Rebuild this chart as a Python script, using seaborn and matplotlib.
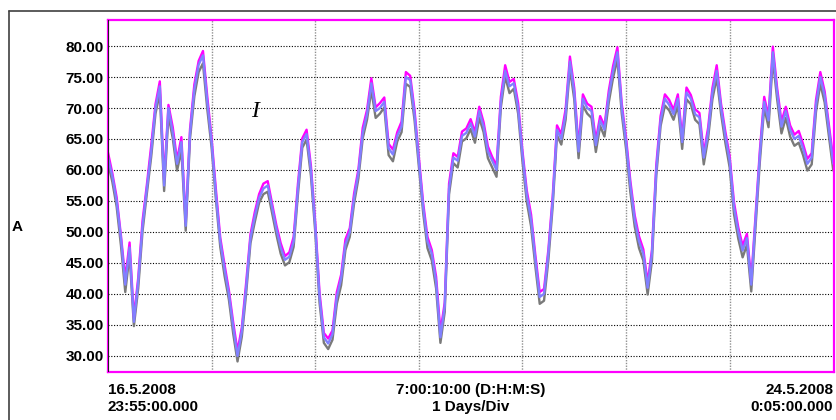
import numpy as np
import matplotlib
matplotlib.use("Agg")
import matplotlib.pyplot as plt
import seaborn as sns
from matplotlib.lines import Line2D

# hourly current readings (A), three phases, starting 16.5.2008 23:55
phase_blue = [62, 59, 55, 49, 41.5, 47.5, 35.5, 42, 51, 57, 63, 70, 73.5, 57.5, 70, 66, 61, 64.5, 51, 66, 73, 77, 78.5, 71, 64.5, 56, 48.5, 44, 40,
              34.7, 30, 34, 41, 49, 52.5, 55.5, 57, 57.5, 54, 50.5, 47.5, 45.5, 46, 48.5, 57, 64.5, 65.8, 60, 51, 39.5, 33, 32, 33.5, 39.5, 42.5, 48, 50,
              55.5, 59.5, 66, 69, 74, 69.5, 70, 71, 63.5, 62.5, 65.5, 67, 75, 74.5, 69, 61.5, 54, 48.5, 46.5, 42, 33, 38, 57, 62, 61.5, 65.5, 66, 67.5,
              65.4, 69.5, 67, 63, 61.5, 60, 71, 76, 73.5, 74, 70, 62.5, 56, 52, 45.5, 39.5, 40, 46.5, 55, 66.5, 65, 69, 77.5, 72.5, 63, 71.5, 70,
              69.5, 64, 68, 66.5, 72, 76, 79, 70, 64.5, 57.5, 52, 48.5, 46.5, 41, 46.5, 60, 68, 71.5, 70.5, 69, 71.5, 64.5, 72.5, 71.5, 69, 68.5, 62, 66,
              72.5, 76, 70, 65.5, 61.5, 54, 50, 47, 49, 41.5, 52, 62.5, 71, 68, 79, 72.5, 67, 69.5, 66.5, 65, 65.5, 63.5, 61, 62, 70.5, 75, 72, 66.5, 61]

phase_pink = [62.8, 59.5, 55.6, 49.4, 42.5, 48.3, 36.2, 42.6, 51.8, 57.6, 63.9, 70.6, 74.3, 58.4, 70.5, 66.9, 61.6, 65.3, 51.6, 66.6, 73.8, 77.6, 79.2, 71.8, 65.1, 56.8, 49.1, 44.7, 40.6,
              35.4, 30.8, 34.6, 41.8, 49.6, 53.2, 56.1, 57.8, 58.2, 54.6, 51.1, 48.2, 46.1, 46.7, 49.2, 57.8, 65.1, 66.5, 60.7, 51.6, 40.2, 33.7, 32.8, 34.1, 40.3, 43.1, 48.8, 50.6,
              56.2, 60.1, 66.8, 69.7, 74.8, 70.1, 70.8, 71.7, 64.2, 63.3, 66.1, 67.8, 75.8, 75.2, 69.7, 62.1, 54.7, 49.2, 47.1, 42.8, 33.9, 38.6, 57.8, 62.7, 62.1, 66.2, 66.7, 68.2,
              66.1, 70.2, 67.7, 63.8, 62.1, 60.7, 71.8, 76.9, 74.2, 74.7, 70.8, 63.1, 56.7, 52.8, 46.2, 40.3, 40.8, 47.1, 55.7, 67.2, 65.8, 69.8, 78.3, 73.2, 63.7, 72.2, 70.7,
              70.2, 64.8, 68.7, 67.1, 72.8, 76.8, 79.8, 70.7, 65.2, 58.2, 52.7, 49.3, 47.2, 41.8, 47.1, 60.8, 68.7, 72.2, 71.3, 69.7, 72.2, 65.2, 73.3, 72.1, 69.8, 69.2, 62.7, 66.8,
              73.2, 76.9, 70.7, 66.2, 62.2, 54.8, 50.7, 47.8, 49.7, 42.2, 52.8, 63.2, 71.8, 68.7, 79.9, 73.2, 67.8, 70.2, 67.2, 65.7, 66.3, 64.2, 61.8, 62.7, 71.3, 75.8, 72.7, 67.2, 61.7]

phase_gray = [61.2, 58.1, 54.1, 47.8, 40.3, 46.4, 34.8, 40.9, 50.1, 56.2, 62.1, 69.1, 72.4, 56.6, 68.8, 65.1, 59.9, 63.2, 50.2, 65.1, 71.9, 75.8, 77.2, 69.8, 63.6, 55.2, 47.6, 42.9, 39.1,
              33.6, 29.1, 33.1, 40.1, 48.2, 51.6, 54.7, 56.1, 56.5, 53.1, 49.6, 46.5, 44.6, 45.1, 47.6, 56.1, 63.6, 64.9, 59.1, 50.1, 38.6, 32.1, 31.1, 32.6, 38.4, 41.4, 47.1, 49.2,
              54.6, 58.6, 65.1, 68.1, 72.9, 68.4, 69.1, 70.1, 62.4, 61.4, 64.6, 66.1, 73.9, 73.4, 68.1, 60.6, 53.1, 47.4, 45.4, 40.9, 32.1, 37.1, 56.1, 61.1, 60.4, 64.6, 65.1, 66.6,
              64.4, 68.4, 66.1, 61.9, 60.4, 58.9, 70.1, 75.1, 72.4, 73.1, 69.1, 61.4, 54.9, 50.9, 44.4, 38.4, 38.9, 45.4, 54.1, 65.6, 64.1, 68.1, 76.4, 71.4, 61.9, 70.4, 69.1,
              68.4, 62.9, 67.1, 65.4, 70.9, 74.9, 77.9, 69.1, 63.4, 56.4, 50.9, 47.4, 45.4, 39.9, 45.4, 59.1, 67.1, 70.4, 69.6, 68.1, 70.4, 63.4, 71.4, 70.6, 68.1, 67.4, 60.9, 65.1,
              71.4, 74.9, 69.1, 64.4, 60.4, 52.9, 48.9, 45.9, 47.9, 40.4, 50.9, 61.4, 70.1, 66.9, 77.9, 71.4, 65.9, 68.4, 65.4, 63.9, 64.4, 62.4, 59.9, 60.9, 69.4, 73.9, 70.9, 65.4, 59.9]

y_ticks = [30, 35, 40, 45, 50, 55, 60, 65, 70, 75, 80]

sns.set_style("white")
plt.rcParams['font.family'] = ['Liberation Sans', 'DejaVu Sans']
plt.rcParams['text.color'] = 'black'
plt.rcParams['ytick.color'] = 'black'

W, H = 836, 420
fig = plt.figure(figsize=(W / 100, H / 100), dpi=100)
ax = fig.add_axes([108 / W, 1 - 372 / H, 726 / W, 352 / H])

# draw phases: gray underneath, blue on top
for vals, col in [(phase_gray, '#7a7a7a'), (phase_pink, '#ff00ff'), (phase_blue, '#8080ff')]:
    days = np.arange(len(vals)) / 24.0
    sns.lineplot(x=days, y=vals, color=col, linewidth=1.7, ax=ax, estimator=None)

ax.set_xlim(0, 7.007)
ax.set_ylim(27.4, 84.2)
ax.set_yticks(y_ticks)
ax.set_yticklabels([f"{v:.2f}" for v in y_ticks], fontsize=11, fontweight='bold', color='black')
ax.set_xticks(np.arange(1, 8))
ax.set_xticklabels([])
ax.tick_params(axis='both', length=0, pad=3)
ax.grid(False)
for v in y_ticks:
    ax.axhline(v, color='black', linewidth=0.8, linestyle=(0, (1, 1.5)), zorder=0)
for d in range(1, 7):
    ax.axvline(d, color='#909090', linewidth=1.0, linestyle=(0, (1, 1)), zorder=0)
ax.axvline(0.004, color='#202020', linewidth=1.5, zorder=5)
for s in ax.spines.values():
    s.set_color('#ff00ff')
    s.set_linewidth(1.6)
ax.set_xlabel('')
ax.set_ylabel('')

ax.text(0.2025, 0.741, 'I', transform=ax.transAxes, fontsize=17, style='italic',
        family=['Liberation Serif', 'DejaVu Serif'], ha='center', va='center', color='black')

# outer frame
fig.add_artist(Line2D([9 / W, 9 / W], [0, 1 - 11 / H], transform=fig.transFigure, color='#404040', linewidth=1.2))
fig.add_artist(Line2D([9 / W, 1], [1 - 11 / H, 1 - 11 / H], transform=fig.transFigure, color='#404040', linewidth=1.2))

fig.text(12 / W, 1 - 227 / H, 'A', fontsize=11, fontweight='bold', ha='left', va='center', color='black')

bold = dict(fontsize=11, fontweight='bold', va='center', color='black')
fig.text(108 / W, 1 - 390 / H, '16.5.2008', ha='left', **bold)
fig.text(108 / W, 1 - 407 / H, '23:55:00.000', ha='left', **bold)
fig.text(471 / W, 1 - 390 / H, '7:00:10:00 (D:H:M:S)', ha='center', **bold)
fig.text(471 / W, 1 - 407 / H, '1 Days/Div', ha='center', **bold)
fig.text(833 / W, 1 - 390 / H, '24.5.2008', ha='right', **bold)
fig.text(833 / W, 1 - 407 / H, '0:05:00.000', ha='right', **bold)

fig.savefig('out.png', dpi=100)
